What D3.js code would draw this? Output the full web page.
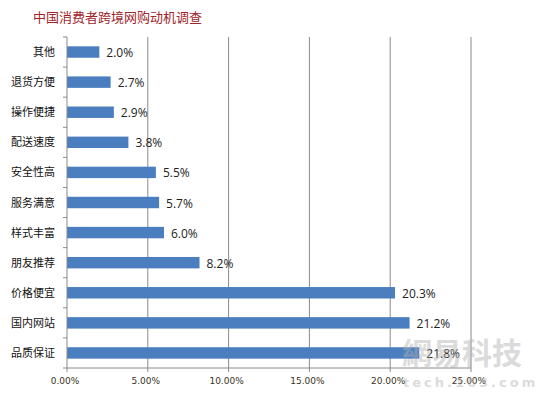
<!DOCTYPE html>
<html>
<head>
<meta charset="utf-8">
<script src="https://cdn.jsdelivr.net/npm/d3@7"></script>
<style>
  body { margin: 0; background: #fff; }
  svg { display: block; }
</style>
</head>
<body>
<svg id="chart" width="550" height="399"></svg>
<script>
let categories = ["其他","退货方便","操作便捷","配送速度","安全性高","服务满意","样式丰富","朋友推荐","价格便宜","国内网站","品质保证"];
let values = [2.0, 2.7, 2.9, 3.8, 5.5, 5.7, 6.0, 8.2, 20.3, 21.2, 21.8];
let ticks = [0, 5, 10, 15, 20, 25];
let title = "中国消费者跨境网购动机调查";

let width = 550, height = 399;
let margin = {left: 67, right: 79, top: 37, bottom: 31};
let svg = d3.select("#chart");
let cjk = "'Noto Sans CJK SC', sans-serif";

let x = d3.scaleLinear().domain([0, 25]).range([margin.left, width - margin.right]);
let y = d3.scaleBand().domain(categories).range([margin.top, height - margin.bottom]).paddingInner(0.62).paddingOuter(0.31);
let bandEdge = d3.scaleBand().domain(categories).range([margin.top, height - margin.bottom]);

// title
svg.append("text")
  .attr("x", 33).attr("y", 22)
  .style("font-family", cjk).style("font-size", "13px")
  .style("fill", "#a0242a")
  .text(title);

// vertical gridlines
svg.selectAll(".grid")
  .data(ticks.slice(1))
  .enter()
  .append("line")
  .attr("class", "grid")
  .attr("x1", d => x(d)).attr("x2", d => x(d))
  .attr("y1", margin.top).attr("y2", height - margin.bottom)
  .style("stroke", "#8a8a8a").style("stroke-width", 1);

// bars
svg.selectAll(".bar")
  .data(values)
  .enter()
  .append("rect")
  .attr("class", "bar")
  .attr("x", x(0))
  .attr("y", (d, i) => y(categories[i]))
  .attr("width", d => x(d) - x(0))
  .attr("height", y.bandwidth())
  .style("fill", "#4a7ebf");

// value labels
svg.selectAll(".val")
  .data(values)
  .enter()
  .append("text")
  .attr("class", "val")
  .attr("x", d => x(d) + 7)
  .attr("y", (d, i) => y(categories[i]) + y.bandwidth() / 2 + 5)
  .style("font-family", "'Open Sans', sans-serif").style("font-size", "12px")
  .style("fill", "#222")
  .text(d => d.toFixed(1) + "%");

// y axis
let yAxis = svg.append("g");
yAxis.append("line")
  .attr("x1", x(0)).attr("x2", x(0))
  .attr("y1", margin.top).attr("y2", height - margin.bottom)
  .style("stroke", "#8a8a8a");
yAxis.selectAll(".ytick")
  .data(categories.concat([null]))
  .enter()
  .append("line")
  .attr("x1", x(0) - 4).attr("x2", x(0))
  .attr("y1", d => d === null ? height - margin.bottom : bandEdge(d))
  .attr("y2", d => d === null ? height - margin.bottom : bandEdge(d))
  .style("stroke", "#8a8a8a");
yAxis.selectAll(".ylab")
  .data(categories)
  .enter()
  .append("text")
  .attr("x", 55)
  .attr("y", d => y(d) + y.bandwidth() / 2 + 4)
  .attr("text-anchor", "end")
  .style("font-family", cjk).style("font-size", "11px")
  .style("fill", "#111")
  .text(d => d);

// x axis
let xAxis = svg.append("g");
xAxis.append("line")
  .attr("x1", x(0)).attr("x2", x(25))
  .attr("y1", height - margin.bottom).attr("y2", height - margin.bottom)
  .style("stroke", "#8a8a8a");
xAxis.selectAll(".xtick")
  .data(ticks)
  .enter()
  .append("line")
  .attr("x1", d => x(d)).attr("x2", d => x(d))
  .attr("y1", height - margin.bottom).attr("y2", height - margin.bottom + 4)
  .style("stroke", "#8a8a8a");
xAxis.selectAll(".xlab")
  .data(ticks)
  .enter()
  .append("text")
  .attr("x", d => x(d) - 2)
  .attr("y", height - margin.bottom + 16)
  .attr("text-anchor", "middle")
  .style("font-family", "'DejaVu Sans', sans-serif").style("font-size", "9px")
  .style("fill", "#3a3420")
  .text(d => d.toFixed(2) + "%");

// watermark
let wm = svg.append("g").style("opacity", 0.45);
wm.append("text")
  .attr("x", 402).attr("y", 364)
  .style("font-family", cjk).style("font-size", "30px").style("font-weight", "bold")
  .style("fill", "#b0b0b0")
  .text("網易科技");
wm.append("text")
  .attr("x", 403).attr("y", 387)
  .style("font-family", "'DejaVu Sans', sans-serif").style("font-size", "13px").style("font-weight", "bold")
  .style("letter-spacing", "3px")
  .style("fill", "#b0b0b0")
  .text("tech.163.com");
</script>
</body>
</html>
